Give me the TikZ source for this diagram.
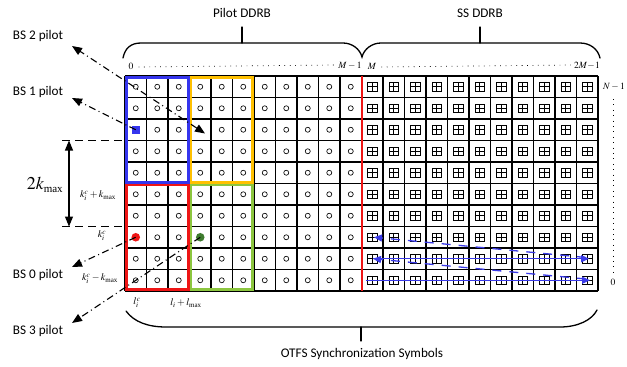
\documentclass[tikz,border=0pt]{standalone}
\usepackage{mathptmx}
\usepackage[no-math]{fontspec}
\setmainfont{Carlito}
\newfontfamily\tms{Liberation Serif}
\usetikzlibrary{arrows.meta}

% upright "max" subscript in a Times-like face
\newcommand\mxs[1]{\hbox{\tms\fontsize{#1}{#1}\selectfont max}}

\definecolor{boxblue}{HTML}{3535EE}
\definecolor{boxred}{HTML}{EE1515}
\definecolor{boxorange}{HTML}{FFC000}
\definecolor{boxgreen}{HTML}{8CC63F}
\definecolor{dotgreen}{HTML}{3E7B2E}
\definecolor{pathblue}{HTML}{3A3AE8}

\tikzset{
  gridline/.style={line width=1.6pt, black},
  region/.style={line width=2.8pt},
  cellmark/.style={line width=0.65pt, black},
  guide/.style={line width=1pt, dash pattern=on 8pt off 5pt},
  dashdotline/.style={line width=1.1pt, dash pattern=on 7pt off 3.5pt on 1pt off 3.5pt},
  bshead/.style={-{Triangle[length=10pt,width=8pt]}},
  idxdots/.style={line width=0.7pt, dash pattern=on 0.8pt off 4.6pt},
  brace/.style={line width=1.3pt, line cap=round},
  lbl/.style={font=\fontsize{13.2}{15}\selectfont, inner sep=0pt},
  mlbl/.style={font=\fontsize{10}{12}\selectfont, inner sep=0pt},
  idx/.style={font=\fontsize{9.5}{11}\selectfont, inner sep=0pt},
  scan/.style={line width=1.3pt, pathblue},
  scanhead/.style={-{Triangle[length=8pt,width=7pt]}},
}

\begin{document}
\begin{tikzpicture}[x=1pt,y=-1pt]
\useasboundingbox (0,0) rectangle (627,367);

% cell centres
\foreach \i in {0,...,21}
  \foreach \j in {0,...,9}
    \coordinate (c\i-\j) at ({125+(\i+0.5)*21.5},{76+(\j+0.5)*21.5});

% cell contents: circles in the pilot block, boxed crosses in the SS block
\foreach \i in {0,...,10}
  \foreach \j in {0,...,9} {
    \ifnum\i=0 \ifnum\j=2 \else\ifnum\j=7 \else
      \draw[cellmark] (c\i-\j) circle (2.5pt);
    \fi\fi
    \else\ifnum\i=3 \ifnum\j=2 \else\ifnum\j=7 \else
      \draw[cellmark] (c\i-\j) circle (2.5pt);
    \fi\fi
    \else
      \draw[cellmark] (c\i-\j) circle (2.5pt);
    \fi\fi
  }
\foreach \i in {11,...,21}
  \foreach \j in {0,...,9} {
    \draw[cellmark] ([shift={(-4.8,-4.2)}]c\i-\j) rectangle ([shift={(4.8,4.2)}]c\i-\j);
    \draw[cellmark] ([shift={(-4.8,0)}]c\i-\j) -- ([shift={(4.8,0)}]c\i-\j);
    \draw[cellmark] ([shift={(0,-4.2)}]c\i-\j) -- ([shift={(0,4.2)}]c\i-\j);
  }

% grid
\foreach \i in {0,...,22}
  \draw[gridline] ({125+\i*21.5},76) -- ({125+\i*21.5},291);
\foreach \j in {0,...,10}
  \draw[gridline] (125,{76+\j*21.5}) -- (598,{76+\j*21.5});

% boundary between pilot and SS blocks
\draw[line width=2pt, boxred] (361.5,76) -- (361.5,291);

% pilot regions of the four base stations
\draw[region, boxblue]   (126.5,77.5)  rectangle (188.1,182.1);
\draw[region, boxorange] (190.9,77.5)  rectangle (252.6,182.1);
\draw[region, boxred]    (126.5,184.9) rectangle (188.1,289.5);
\draw[region, boxgreen]  (190.9,184.9) rectangle (252.6,289.5);

% pilots
\fill[boxblue] ([shift={(-4,-4)}]c0-2) rectangle ([shift={(4,4)}]c0-2);
\fill[boxred] (c0-7) circle (4.3pt);
\fill[dotgreen] (c3-7) circle (4.3pt);

% column and row indices
\node[idx] (col0) at (131,66) {$0$};
\node[idx] (colM1) at (350,66) {$M-1$};
\node[idx] (colM) at (372,66) {$M$};
\node[idx] (col2M) at (587,66) {$2M\!-\!1$};
\node[idx] (rowN) at (614,87) {$N-1$};
\node[idx] (row0) at (613,282) {$0$};
\coordinate (rowtop) at (613,99);
\coordinate (rowbot) at (613,272);
\draw[idxdots] (col0.east) ++(5,1) -- ([xshift=-4pt,yshift=1pt]colM1.west);
\draw[idxdots] (colM.east) ++(5,1) -- ([xshift=-3pt,yshift=1pt]col2M.west);
\draw[idxdots] (rowtop) -- (rowbot);

% top braces
\coordinate (pl) at (123,58);
\coordinate (cusp) at (362,57);
\coordinate (sr) at (600,58);
\coordinate (ptip) at (242,27);
\coordinate (ptipb) at (242,43);
\coordinate (stip) at (480,27);
\coordinate (stipb) at (480,43);
\draw[brace] (pl) .. controls (125,48) and (131,43) .. (141,43) -- (343,43)
  .. controls (352,43) and (360,49) .. (cusp)
  .. controls (364,49) and (372,43) .. (381,43) -- (580,43)
  .. controls (590,43) and (598,49) .. (sr);
\draw[brace] (ptipb) -- (ptip);
\draw[brace] (stipb) -- (stip);
\node[lbl] (pilotddrb) at (242,13) {Pilot DDRB};
\node[lbl] (ssddrb) at (480,13) {SS DDRB};

% bottom brace
\coordinate (bl) at (126,311);
\coordinate (br) at (597,310);
\coordinate (btip) at (361,341);
\coordinate (btipb) at (361,327);
\draw[brace] (bl) .. controls (134,322) and (148,327) .. (166,327) -- (560,327)
  .. controls (578,327) and (592,320) .. (br);
\draw[brace] (btipb) -- (btip);
\node[lbl] (otfs) at (362,354) {OTFS Synchronization Symbols};

% Doppler span guides
\coordinate (gt0) at (62,140.5);
\coordinate (gt1) at (125,140.5);
\coordinate (gb0) at (62,226.5);
\coordinate (gb1) at (125,226.5);
\coordinate (at) at (69,140.5);
\coordinate (ab) at (69,226.5);
\draw[guide] (gt0) -- (gt1);
\draw[guide] (gb0) -- (gb1);
\draw[line width=1.1pt, {Triangle[length=10pt,width=8pt]}-{Triangle[length=10pt,width=8pt]}] (at) -- (ab);
\node[font=\fontsize{18}{20}\selectfont, inner sep=0pt] (twok) at (45,185) {$2k_{\mxs{11}}$};
\node[mlbl] (kup) at (98,196) {$k_i^c+k_{\mxs{7}}$};
\node[mlbl] (kc) at (102,236) {$k_i^c$};
\node[mlbl] (kdn) at (100,279) {$k_i^c-k_{\mxs{7}}$};
\node[mlbl] (lc) at (137,303) {$l_i^c$};
\node[mlbl] (lup) at (186,303) {$l_i+l_{\mxs{7}}$};

% base-station pilot labels and pointers
\node[lbl] (bs2) at (38,36) {BS 2 pilot};
\node[lbl] (bs1) at (38,92) {BS 1 pilot};
\node[lbl] (bs0) at (38,275) {BS 0 pilot};
\node[lbl] (bs3) at (38,331) {BS 3 pilot};
\coordinate (bs2t) at (72,46);
\coordinate (bs1t) at (72,98);
\coordinate (bs0t) at (72,267);
\coordinate (bs3t) at (72,323);
\coordinate (p2) at (205,133.5);
\draw[dashdotline, {Triangle[length=10pt,width=8pt]}-{Triangle[length=10pt,width=8pt]}] (p2) -- (bs2t);
\draw[dashdotline, bshead] (c0-2) -- (bs1t);
\draw[dashdotline, bshead] (c0-7) -- (bs0t);
\draw[dashdotline, bshead] (c3-7) -- (bs3t);

% scanning order of the SS block
\coordinate (l9) at (366,280.25);
\coordinate (r9) at (590,280.25);
\coordinate (l8) at (373,258.75);
\coordinate (r8) at (589,258.75);
\coordinate (l7) at (374,237.25);
\coordinate (r9s) at (586,279);
\coordinate (r8s) at (586,257.5);
\draw[scan, scanhead] (l9) -- (r9);
\draw[scan, scanhead] (l8) -- (r8);
\draw[scan, scanhead, dash pattern=on 9pt off 8pt] (r9s) -- (l8);
\draw[scan, scanhead, dash pattern=on 9pt off 8pt] (r8s) -- (l7);
\end{tikzpicture}
\end{document}
